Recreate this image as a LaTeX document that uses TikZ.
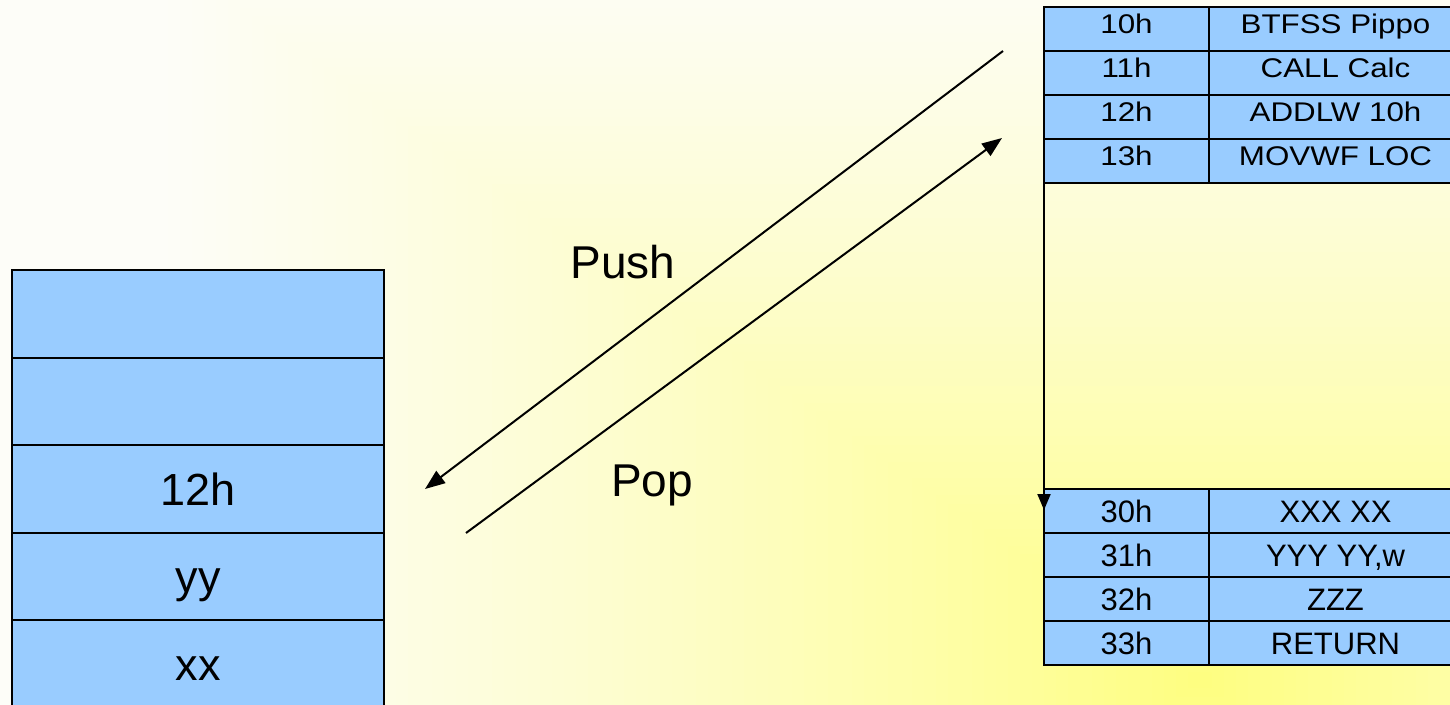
\documentclass[tikz,border=0pt]{standalone}
\usepackage{fontspec}
\usepackage{graphicx}
\setmainfont{Liberation Sans}
\usetikzlibrary{arrows.meta}
\definecolor{cellblue}{RGB}{153,204,255}
% program listing text is set slightly condensed in height
\newcommand{\widetext}[1]{\scalebox{1.16}[1]{#1}}

\begin{document}
\begin{tikzpicture}[x=1pt,y=-1pt,
  cell/.style={draw=black, fill=cellblue, line width=2.2pt, inner sep=0pt, outer sep=0pt, anchor=center},
  stackcell/.style={cell, minimum width=372pt, minimum height=87.5pt,
    font=\fontsize{45}{50}\selectfont, text height=32pt, text depth=0pt},
  addrtop/.style={cell, minimum width=165pt, minimum height=44pt,
    font=\fontsize{27}{30}\selectfont, text height=19pt, text depth=11pt},
  codetop/.style={addrtop, minimum width=253pt},
  addrbot/.style={cell, minimum width=165pt, minimum height=44pt,
    font=\fontsize{31}{34}\selectfont, text height=22pt, text depth=0pt},
  codebot/.style={addrbot, minimum width=253pt},
  lbl/.style={inner sep=0pt, font=\fontsize{46}{50}\selectfont, text height=33pt, text depth=0pt},
  flow/.style={draw=black, line width=2pt},
]
\clip (0,0) rectangle (1450,704);

% background: rectangular gradient, pale cream to yellow towards the lower right
\fill[color={rgb,255:red,253;green,253;blue,248}] (0,0) rectangle (1450,704);
\foreach \i in {0,...,100}{
  \pgfmathsetmacro{\d}{1.5*(1-\i/100)}
  \pgfmathsetmacro{\u}{min(\d/1.3,1)}
  \pgfmathsetmacro{\t}{\u*(1.35-0.35*\u)}
  \pgfmathtruncatemacro{\bb}{128+120*\t}
  \pgfmathtruncatemacro{\rr}{255-2*\t}
  \definecolor{bgstep}{RGB}{\rr,\rr,\bb}
  \fill[bgstep] (1200-\d*800,680-\d*560) rectangle (1200+\d*800,680+\d*560);
}

% stack
\node[stackcell] (s1) at (198,314) {};
\node[stackcell] (s2) at (198,401.5) {};
\node[stackcell] (s3) at (198,489) {12h};
\node[stackcell] (s4) at (198,576.5) {yy};
\node[stackcell] (s5) at (198,664) {xx};

% main program
\node[addrtop] (t10a) at (1126.5,29)  {\widetext{10h}};
\node[codetop] (t10c) at (1335.5,29)  {\widetext{BTFSS Pippo}};
\node[addrtop] (t11a) at (1126.5,73)  {\widetext{11h}};
\node[codetop] (t11c) at (1335.5,73)  {\widetext{CALL Calc}};
\node[addrtop] (t12a) at (1126.5,117) {\widetext{12h}};
\node[codetop] (t12c) at (1335.5,117) {\widetext{ADDLW 10h}};
\node[addrtop] (t13a) at (1126.5,161) {\widetext{13h}};
\node[codetop] (t13c) at (1335.5,161) {\widetext{MOVWF LOC}};

% subroutine
\node[addrbot] (b30a) at (1126.5,511) {30h};
\node[codebot] (b30c) at (1335.5,511) {XXX XX};
\node[addrbot] (b31a) at (1126.5,555) {31h};
\node[codebot] (b31c) at (1335.5,555) {YYY YY,w};
\node[addrbot] (b32a) at (1126.5,599) {32h};
\node[codebot] (b32c) at (1335.5,599) {ZZZ};
\node[addrbot] (b33a) at (1126.5,643) {33h};
\node[codebot] (b33c) at (1335.5,643) {RETURN};

% jump to the subroutine
\coordinate (jump) at (1044,510);
\draw[flow, -{Triangle[length=16pt,width=13pt]}] (t13a.south west) -- (jump);

% push / pop
\coordinate (pushfrom) at (1003,51);
\coordinate (pushto) at (425,489);
\coordinate (popfrom) at (466,533);
\coordinate (popto) at (1002,138);
\draw[flow, -{Triangle[length=20pt,width=15pt]}] (pushfrom) -- (pushto);
\draw[flow, -{Triangle[length=20pt,width=15pt]}] (popfrom) -- (popto);

\node[lbl] (push) at (623,261.5) {Push};
\node[lbl] (pop) at (652,480) {Pop};
\end{tikzpicture}
\end{document}
